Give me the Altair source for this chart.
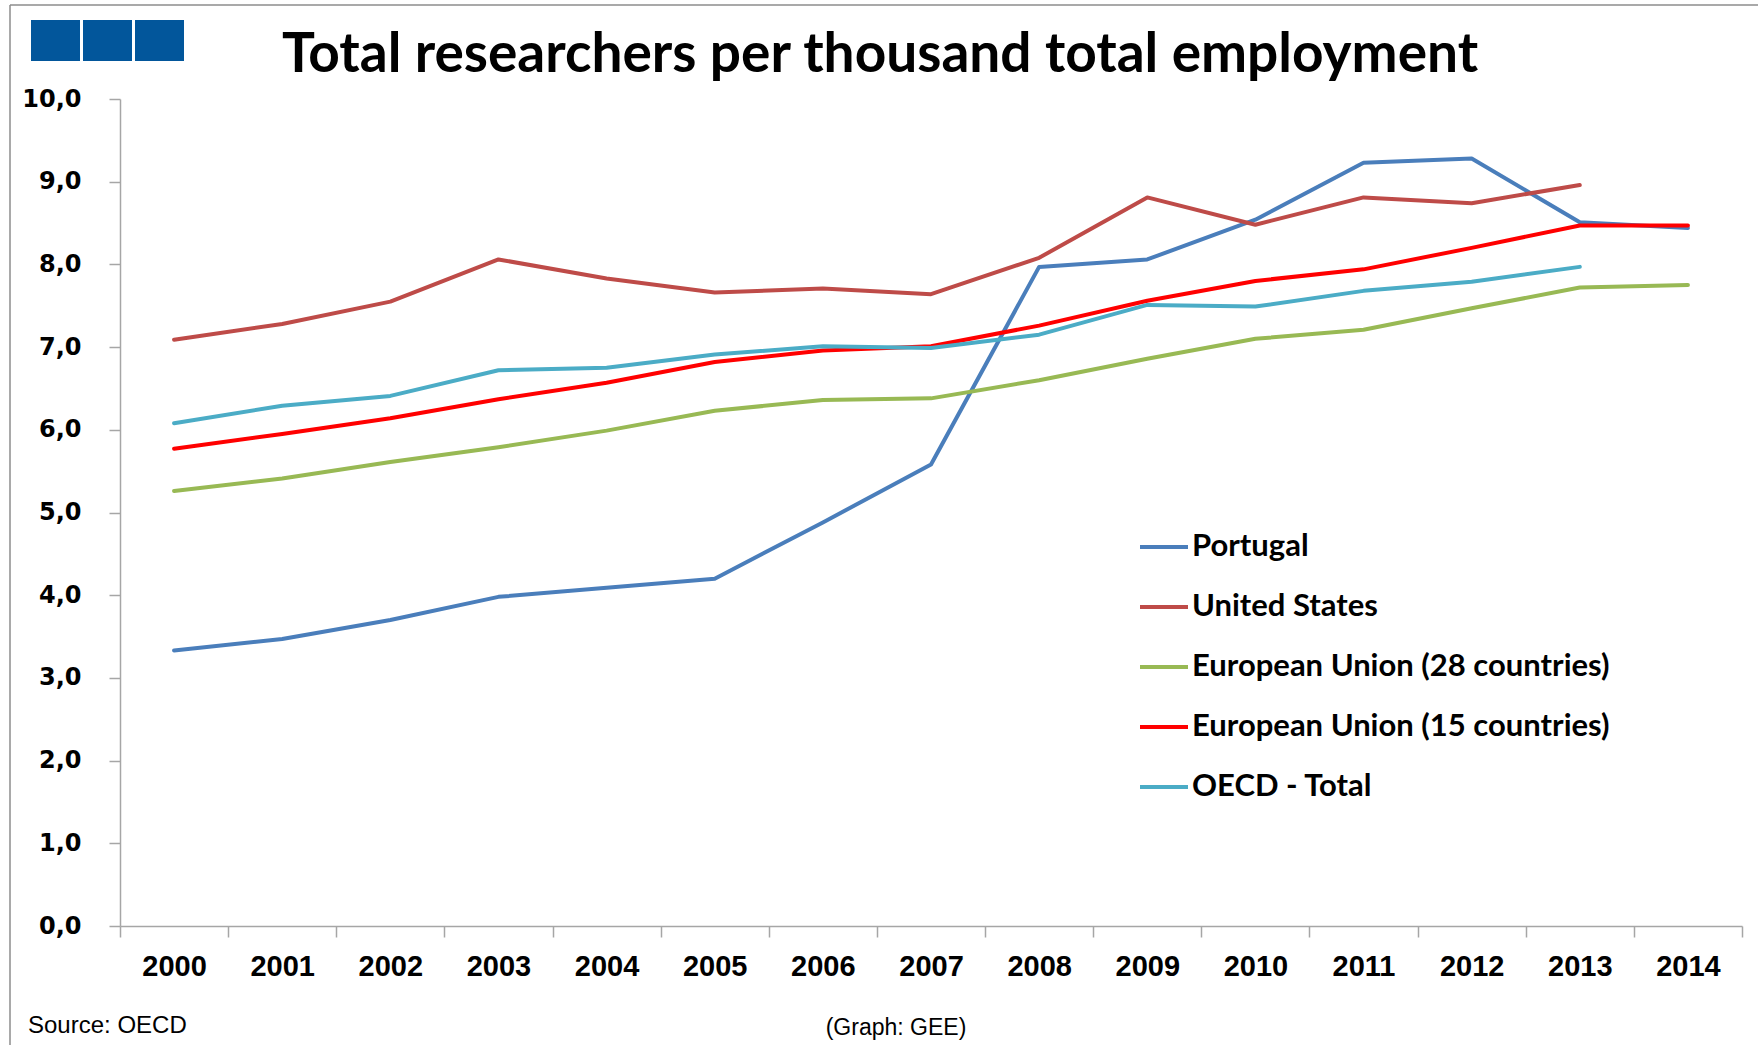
import altair as alt
import pandas as pd

# Researchers per thousand total employment, 2000-2014
years = [str(y) for y in range(2000, 2015)]
series_names = [
    "Portugal",
    "United States",
    "European Union (28 countries)",
    "European Union (15 countries)",
    "OECD - Total",
]
portugal = [3.33, 3.47, 3.70, 3.98, 4.09, 4.20, 4.88, 5.58, 7.97, 8.06, 8.54, 9.23, 9.28, 8.51, 8.44]
united_states = [7.09, 7.28, 7.55, 8.06, 7.83, 7.66, 7.71, 7.64, 8.08, 8.81, 8.48, 8.81, 8.74, 8.96, None]
eu28 = [5.26, 5.41, 5.61, 5.79, 5.99, 6.23, 6.36, 6.38, 6.60, 6.86, 7.10, 7.21, 7.47, 7.72, 7.75]
eu15 = [5.77, 5.95, 6.14, 6.37, 6.57, 6.82, 6.96, 7.01, 7.26, 7.56, 7.80, 7.94, 8.20, 8.47, 8.47]
oecd = [6.08, 6.29, 6.41, 6.72, 6.75, 6.91, 7.01, 6.99, 7.15, 7.51, 7.49, 7.68, 7.79, 7.97, None]
series_colors = ["#4a7ebb", "#be4b48", "#98b954", "#ff0000", "#4bacc6"]

title_text = "Total researchers per thousand total employment"
source_text = "Source: OECD"
credit_text = "(Graph: GEE)"

rows = []
for name, values in zip(series_names, [portugal, united_states, eu28, eu15, oecd]):
    for year, v in zip(years, values):
        if v is not None:
            rows.append({"year": year, "series": name, "value": v})
df = pd.DataFrame(rows)

W, H = 1622, 827
PAD_L, PAD_T = 120, 99
AXIS_GREY = "#a6a6a6"
SANS = "Liberation Sans, Arial, sans-serif"

lines = (
    alt.Chart(df)
    .mark_line(strokeWidth=4, strokeCap="round", strokeJoin="round")
    .encode(
        x=alt.X(
            "year:O",
            scale=alt.Scale(type="band", domain=years, paddingInner=0, paddingOuter=0),
            axis=alt.Axis(
                title=None,
                labelAngle=0,
                tickBand="extent",
                labelFont=SANS,
                labelFontWeight="bold",
                labelFontSize=29,
                labelColor="black",
                labelPadding=15,
                tickSize=11,
                tickColor=AXIS_GREY,
                tickWidth=1.5,
                domainColor=AXIS_GREY,
                domainWidth=1.5,
                grid=False,
            ),
        ),
        y=alt.Y(
            "value:Q",
            scale=alt.Scale(domain=[0, 10], nice=False, zero=True),
            axis=alt.Axis(
                title=None,
                values=list(range(0, 11)),
                labelExpr="replace(format(datum.value, '.1f'), '.', ',')",
                labelFont="DejaVu Sans",
                labelFontWeight="bold",
                labelFontSize=24,
                labelColor="black",
                labelPadding=28,
                tickSize=11,
                tickColor=AXIS_GREY,
                tickWidth=1.5,
                domainColor=AXIS_GREY,
                domainWidth=1.5,
                grid=False,
            ),
        ),
        color=alt.Color(
            "series:N",
            scale=alt.Scale(domain=series_names, range=series_colors),
            sort=series_names,
            legend=alt.Legend(
                title=None,
                orient="none",
                legendX=1018,
                legendY=422,
                symbolType="stroke",
                symbolSize=2304,
                symbolStrokeWidth=4,
                labelFont="Lato",
                labelFontWeight="bold",
                labelFontSize=31,
                labelColor="black",
                labelOffset=2,
                rowPadding=19,
                labelLimit=700,
            ),
        ),
    )
)

def text_layer(txt, x, y, size, font, weight="normal", align="center"):
    return (
        alt.Chart(pd.DataFrame({"t": [txt]}))
        .mark_text(font=font, fontSize=size, fontWeight=weight, align=align,
                   baseline="middle", color="black")
        .encode(text="t:N", x=alt.value(x), y=alt.value(y))
    )

title = text_layer(title_text, 880 - PAD_L, 55 - PAD_T, 55, "Lato", "bold")
source = text_layer(source_text, 28 - PAD_L, 1026 - PAD_T, 24, SANS, align="left")
credit = text_layer(credit_text, 896 - PAD_L, 1028 - PAD_T, 23, SANS)

# Logo: three blue squares
logo_layers = []
for left in (31, 83, 135):
    logo_layers.append(
        alt.Chart(pd.DataFrame({"k": [0]}))
        .mark_rect(color="#02569b")
        .encode(
            x=alt.value(left - PAD_L),
            x2=alt.value(left + 49 - PAD_L),
            y=alt.value(20 - PAD_T),
            y2=alt.value(61 - PAD_T),
        )
    )

# Thin grey frame along the top and left
frame_top = (
    alt.Chart(pd.DataFrame({"k": [0]}))
    .mark_rule(color="#8c8c8c", strokeWidth=1.5)
    .encode(x=alt.value(10 - PAD_L), x2=alt.value(1758 - PAD_L), y=alt.value(5 - PAD_T))
)
frame_left = (
    alt.Chart(pd.DataFrame({"k": [0]}))
    .mark_rule(color="#8c8c8c", strokeWidth=1.5)
    .encode(x=alt.value(10 - PAD_L), y=alt.value(5 - PAD_T), y2=alt.value(1045 - PAD_T))
)

chart = (
    alt.layer(frame_top, frame_left, *logo_layers, title, lines, source, credit)
    .properties(
        width=W,
        height=H,
        autosize=alt.AutoSizeParams(type="none"),
        padding={"left": PAD_L, "top": PAD_T, "right": 1758 - PAD_L - W, "bottom": 1045 - PAD_T - H},
        background="white",
    )
    .configure_view(stroke=None)
)

chart.save("out.html", embed_options={"renderer": "svg", "actions": False})
